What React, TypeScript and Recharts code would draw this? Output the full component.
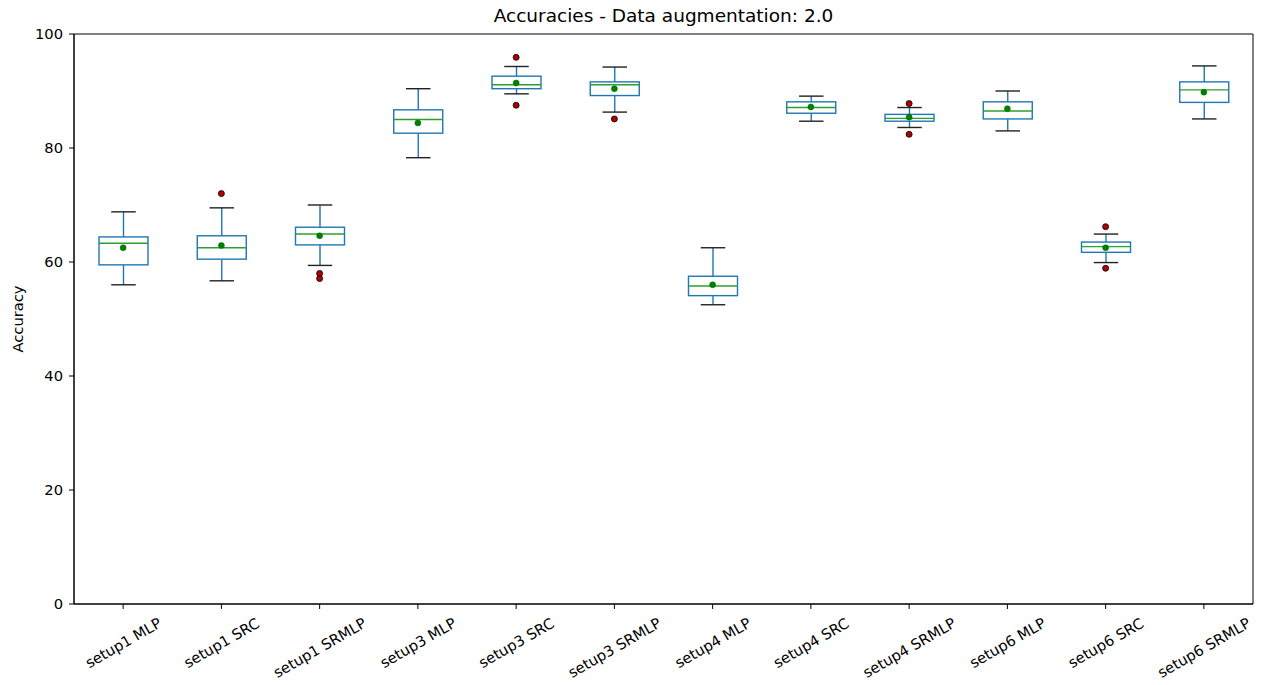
import React from "react";
import {
  ComposedChart,
  XAxis,
  YAxis,
  Bar,
  Scatter,
  ReferenceArea,
} from "recharts";

const categories = [
  "setup1 MLP",
  "setup1 SRC",
  "setup1 SRMLP",
  "setup3 MLP",
  "setup3 SRC",
  "setup3 SRMLP",
  "setup4 MLP",
  "setup4 SRC",
  "setup4 SRMLP",
  "setup6 MLP",
  "setup6 SRC",
  "setup6 SRMLP",
];

const whiskerLow = [56.0, 56.7, 59.4, 78.3, 89.5, 86.3, 52.5, 84.7, 83.6, 83.0, 59.9, 85.1];
const q1 = [59.5, 60.5, 63.0, 82.6, 90.4, 89.2, 54.1, 86.1, 84.7, 85.1, 61.7, 88.0];
const medians = [63.3, 62.5, 64.9, 85.0, 91.1, 91.1, 55.8, 87.1, 85.2, 86.5, 62.7, 90.2];
const q3 = [64.4, 64.6, 66.1, 86.7, 92.6, 91.6, 57.5, 88.1, 85.9, 88.1, 63.5, 91.6];
const whiskerHigh = [68.8, 69.5, 70.0, 90.4, 94.3, 94.2, 62.5, 89.1, 87.1, 90.0, 64.9, 94.4];
const means = [62.5, 62.9, 64.6, 84.4, 91.4, 90.4, 56.0, 87.2, 85.4, 86.9, 62.5, 89.8];
const outliers = [[], [72.0], [58.0, 57.1], [], [95.9, 87.5], [85.1], [], [], [87.8, 82.4], [], [66.2, 58.9], []];

const yTicks = [0, 20, 40, 60, 80, 100];

const data = categories.map((name, i) => ({
  name,
  range: [whiskerLow[i], whiskerHigh[i]],
  lo: whiskerLow[i],
  hi: whiskerHigh[i],
  q1: q1[i],
  q3: q3[i],
  median: medians[i],
  mean: means[i],
  out0: outliers[i][0] ?? null,
  out1: outliers[i][1] ?? null,
}));

const BLUE = "#1f77b4";
const GREEN = "#2ca02c";
const FONT = "'DejaVu Sans', sans-serif";
const TICK_FS = 14.7;

// rough DejaVu Sans advance widths (em)
const charW: Record<string, number> = {
  s: 0.521, e: 0.615, t: 0.392, u: 0.634, p: 0.635, " ": 0.318,
  M: 0.863, L: 0.557, P: 0.603, S: 0.635, R: 0.695, C: 0.698,
};
const textWidth = (s: string) =>
  s.split("").reduce((a, c) => a + (charW[c] ?? 0.636), 0);

const BoxShape = (props: any) => {
  const { x, y, width, height, payload } = props;
  if (!payload) return null;
  const top = Math.min(y, y + height);
  const h = Math.abs(height);
  const k = h / (payload.hi - payload.lo);
  const py = (v: number) => top + (payload.hi - v) * k;
  const cx = x + width / 2;
  const capHalf = width / 4;
  return (
    <g>
      <line x1={cx} x2={cx} y1={py(payload.hi)} y2={py(payload.q3)} stroke={BLUE} strokeWidth={1.4} />
      <line x1={cx} x2={cx} y1={py(payload.q1)} y2={py(payload.lo)} stroke={BLUE} strokeWidth={1.4} />
      <line x1={cx - capHalf} x2={cx + capHalf} y1={py(payload.hi)} y2={py(payload.hi)} stroke="#222" strokeWidth={1.4} />
      <line x1={cx - capHalf} x2={cx + capHalf} y1={py(payload.lo)} y2={py(payload.lo)} stroke="#222" strokeWidth={1.4} />
      <rect x={x} y={py(payload.q3)} width={width} height={py(payload.q1) - py(payload.q3)} fill="none" stroke={BLUE} strokeWidth={1.4} />
      <line x1={x} x2={x + width} y1={py(payload.median)} y2={py(payload.median)} stroke={GREEN} strokeWidth={1.4} />
    </g>
  );
};

const MeanDot = (props: any) => {
  const { cx, cy, payload } = props;
  if (payload?.mean == null || !isFinite(cy)) return <g />;
  return <circle cx={cx} cy={cy} r={3} fill="#008000" stroke="#006400" strokeWidth={0.5} />;
};

const makeOutlier = (key: string) => (props: any) => {
  const { cx, cy, payload } = props;
  if (payload?.[key] == null || !isFinite(cy)) return <g />;
  return <circle cx={cx} cy={cy} r={3} fill="#b00000" stroke="#000" strokeWidth={0.8} />;
};

const XTick = (props: any) => {
  const { x, y, payload } = props;
  const w = textWidth(payload.value) * TICK_FS;
  const bh = w * 0.5 + TICK_FS * 1.16 * 0.866;
  const cy = y + bh / 2;
  return (
    <text
      x={x}
      y={cy}
      textAnchor="middle"
      dominantBaseline="central"
      transform={`rotate(-30 ${x} ${cy})`}
      fontSize={TICK_FS}
      fontFamily={FONT}
      fill="#000"
    >
      {payload.value}
    </text>
  );
};

export default function App() {
  return (
    <div style={{ position: "absolute", left: 0, top: 0, width: 1267, height: 685, background: "#fff", fontFamily: FONT }}>
      <div
        style={{
          position: "absolute",
          left: 74,
          top: 5,
          width: 1179,
          textAlign: "center",
          fontSize: 18.5,
          color: "#000",
        }}
      >
        Accuracies - Data augmentation: 2.0
      </div>
      <div
        style={{
          position: "absolute",
          left: -32,
          top: 309,
          width: 100,
          height: 20,
          lineHeight: "20px",
          textAlign: "center",
          fontSize: TICK_FS,
          transform: "rotate(-90deg)",
          color: "#000",
        }}
      >
        Accuracy
      </div>
      <ComposedChart
        width={1267}
        height={685}
        data={data}
        margin={{ top: 34, right: 14, bottom: 0, left: 0 }}
        style={{ position: "absolute", left: 0, top: 0 }}
      >
        <XAxis
          dataKey="name"
          type="category"
          height={81}
          tick={<XTick />}
          tickSize={5}
          tickMargin={5}
          interval={0}
          stroke="#000"
          tickLine={{ stroke: "#000" }}
        />
        <YAxis
          type="number"
          domain={[0, 100]}
          ticks={yTicks}
          width={74}
          tickSize={5}
          tickMargin={6}
          stroke="#000"
          tick={{ fontSize: TICK_FS, fill: "#000", fontFamily: FONT }}
        />
        <ReferenceArea y1={0} y2={100} fill="none" stroke="#000" strokeWidth={1} ifOverflow="visible" />
        <Bar dataKey="range" barSize={49} shape={<BoxShape />} isAnimationActive={false} />
        <Scatter dataKey="mean" shape={<MeanDot />} isAnimationActive={false} />
        <Scatter dataKey="out0" shape={makeOutlier("out0")} isAnimationActive={false} />
        <Scatter dataKey="out1" shape={makeOutlier("out1")} isAnimationActive={false} />
      </ComposedChart>
    </div>
  );
}
